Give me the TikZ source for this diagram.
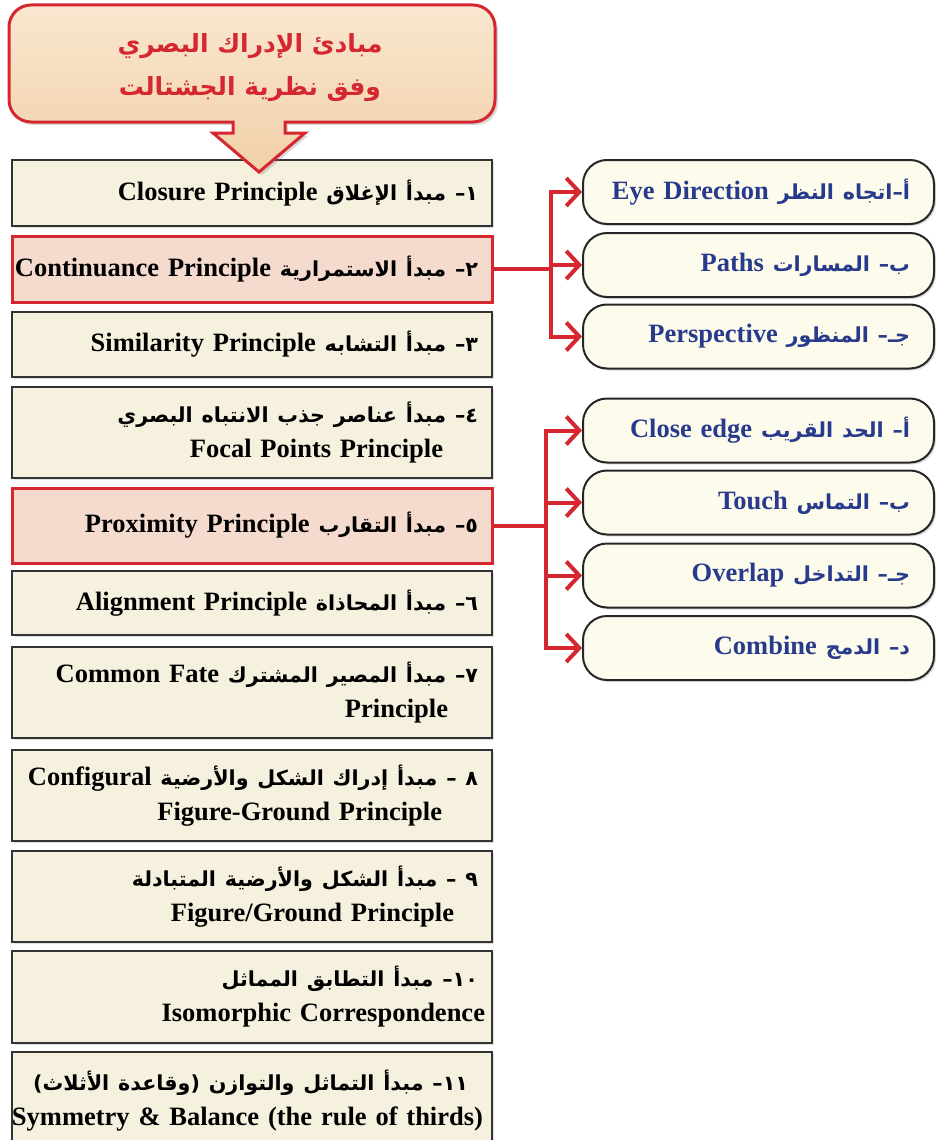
\documentclass[tikz,border=0pt]{standalone}
\usepackage{fontspec}
\setmainfont{Liberation Serif}
\newfontfamily\arfont[Script=Arabic,Scale=0.78]{DejaVu Sans}
\TeXXeTstate=1
\usetikzlibrary{arrows.meta,shadows}
\definecolor{gred}{RGB}{214,39,48}
\definecolor{boxfill}{RGB}{246,241,222}
\definecolor{hifill}{RGB}{245,218,206}
\definecolor{subfill}{RGB}{253,251,236}
\definecolor{navy}{RGB}{40,58,140}
\definecolor{tfilla}{RGB}{249,231,208}
\definecolor{tfillb}{RGB}{241,208,168}
\begin{document}
\begin{tikzpicture}[x=1pt, y=-1pt,
  b/.style={draw=black!80, line width=2.2pt, fill=boxfill, text width=452pt, inner xsep=14pt, align=right,
    font=\bfseries\fontsize{26.5}{35}\selectfont, drop shadow={opacity=.25, shadow xshift=2pt, shadow yshift=-2pt}},
  h/.style={b, draw=gred, line width=3pt, fill=hifill},
  s/.style={draw=black!85, line width=2pt, rounded corners=24pt, fill=subfill, text width=303pt, inner xsep=24pt,
    minimum height=64pt, align=right, text=navy, font=\bfseries\fontsize{26.5}{35}\selectfont,
    drop shadow={opacity=.25, shadow xshift=2pt, shadow yshift=-2pt}},
  link/.style={gred, line width=4pt, -{Straight Barb[length=13pt, width=28pt]}}]
\useasboundingbox (0,0) rectangle (936,1140);
% principles
\node[b, minimum height=66pt] (1) at (252,193) {\beginR{\arfont ١– مبدأ الإغلاق} \beginL Closure Principle\endL\endR};
\node[h, minimum height=66pt] (2) at (252,269) {\makebox[0pt][r]{\beginR{\arfont ٢– مبدأ الاستمرارية} \beginL Continuance Principle\endL\endR}};
\node[b, minimum height=65pt] (3) at (252,344.5) {\beginR{\arfont ٣– مبدأ التشابه} \beginL Similarity Principle\endL\endR};
\node[b, minimum height=91pt] (4) at (252,432.5) {\makebox[0pt][r]{\beginR{\arfont ٤– مبدأ عناصر جذب الانتباه البصري}\endR}\\ Focal Points Principle\hspace*{35pt}\null};
\node[h, minimum height=75pt] (5) at (252,525.5) {\beginR{\arfont ٥– مبدأ التقارب} \beginL Proximity Principle\endL\endR};
\node[b, minimum height=64pt] (6) at (252,603) {\beginR{\arfont ٦– مبدأ المحاذاة} \beginL Alignment Principle\endL\endR};
\node[b, minimum height=91pt] (7) at (252,692.5) {\makebox[0pt][r]{\beginR{\arfont ٧– مبدأ المصير المشترك} \beginL Common Fate\endL\endR}\\ Principle\hspace*{30pt}\null};
\node[b, minimum height=91pt] (8) at (252,795.5) {\makebox[0pt][r]{\beginR{\arfont ٨ – مبدأ إدراك الشكل والأرضية} \beginL Configural\endL\endR}\\ Figure-Ground Principle\hspace*{36pt}\null};
\node[b, minimum height=91pt] (9) at (252,896.5) {\makebox[0pt][r]{\beginR{\arfont ٩ – مبدأ الشكل والأرضية المتبادلة}\endR}\\ Figure/Ground Principle\hspace*{24pt}\null};
\node[b, minimum height=92pt] (10) at (252,997) {\beginR{\arfont ١٠– مبدأ التطابق المماثل}\endR\\ Isomorphic Correspondence\hspace*{-7pt}\null};
\node[b, minimum height=98pt] (11) at (252,1101) {\makebox[0pt][r]{\beginR{\arfont ١١– مبدأ التماثل والتوازن (وقاعدة الأثلاث)}\endR}\hspace*{10pt}\null\\ \makebox[0pt][r]{Symmetry \& Balance (the rule of thirds)}\hspace*{-5pt}\null};
% title callout
\draw[gred, line width=3pt, top color=tfilla, bottom color=tfillb, rounded corners=22pt,
  drop shadow={opacity=.3, shadow xshift=3pt, shadow yshift=-3pt}]
  (252,5) -- (495,5) -- (495,122) -- (400,122) [sharp corners] -- (285,122) -- (285,133) -- (305,133)
  -- (259,172) -- (213,133) -- (233,133) -- (233,122) -- (120,122) [rounded corners=22pt] -- (9,122) -- (9,5) -- cycle;
\node[text=gred, align=center, font=\arfont\bfseries\fontsize{32}{43}\selectfont] (t) at (250,68)
  {\beginR مبادئ الإدراك البصري\endR\\\beginR وفق نظرية الجشتالت\endR};
% sub-principles
\node[s] (a1) at (758.5,192) {\makebox[0pt][r]{\beginR{\arfont أ–اتجاه النظر} \beginL Eye Direction\endL\endR}};
\node[s] (b1) at (758.5,265) {\beginR{\arfont ب– المسارات} \beginL Paths\endL\endR};
\node[s] (c1) at (758.5,336.5) {\beginR{\arfont جـ– المنظور} \beginL Perspective\endL\endR};
\node[s] (a2) at (758.5,430.5) {\beginR{\arfont أ– الحد القريب} \beginL Close edge\endL\endR};
\node[s] (b2) at (758.5,502.5) {\beginR{\arfont ب– التماس} \beginL Touch\endL\endR};
\node[s] (c2) at (758.5,575.5) {\beginR{\arfont جـ– التداخل} \beginL Overlap\endL\endR};
\node[s] (d2) at (758.5,648) {\beginR{\arfont د– الدمج} \beginL Combine\endL\endR};
% links
\draw[link] (2.east) -- ++(57,0) coordinate (j1) |- (a1.west);
\draw[link] (j1) |- (b1.west);
\draw[link] (j1) |- (c1.west);
\draw[link] (5.east) -- ++(52,0) coordinate (j2) |- (a2.west);
\draw[link] (j2) |- (b2.west);
\draw[link] (j2) |- (c2.west);
\draw[link] (j2) |- (d2.west);
\end{tikzpicture}
\end{document}
